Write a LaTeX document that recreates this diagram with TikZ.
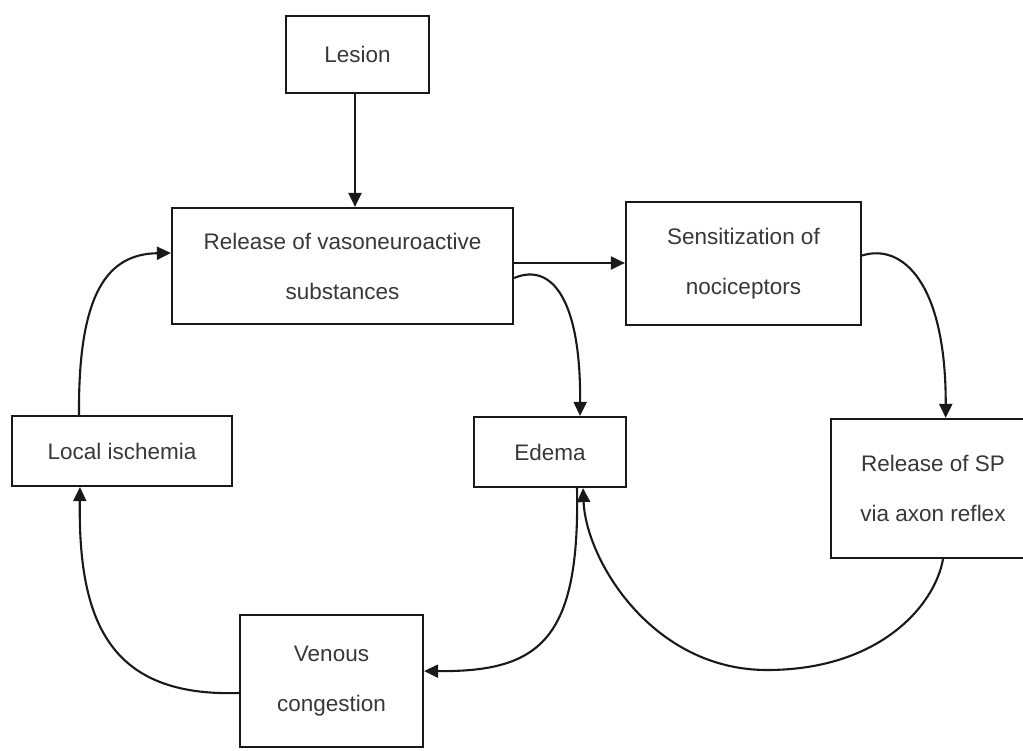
\documentclass[tikz,border=0pt]{standalone}
\usepackage{fontspec}
\setmainfont{Liberation Sans}
\usetikzlibrary{arrows.meta}
\begin{document}
\begin{tikzpicture}[x=1pt,y=-1pt,
  box/.style={draw=black!90, line width=2.2pt, inner sep=0pt, align=center,
    text=black!78, font=\fontsize{22.5}{50}\selectfont},
  arr/.style={draw=black!90, line width=2.1pt,
    -{Triangle[length=14pt,width=13pt]}}]
\useasboundingbox (0,0) rectangle (1023,750);
\fill[white] (0,0) rectangle (1023,750);
\begin{scope}
\clip (0,0) rectangle (1023,750);
% boxes
\node[box, minimum width=143pt, minimum height=77pt] (lesion) at (357.5,54.5) {Lesion};
\node[box, minimum width=341pt, minimum height=116pt] (release) at (342.5,266) {Release of vasoneuroactive\\substances};
\node[box, minimum width=235pt, minimum height=123pt] (sens) at (743.5,263.5) {Sensitization of\\nociceptors};
\node[box, minimum width=220pt, minimum height=70pt] (isch) at (122,451) {Local ischemia};
\node[box, minimum width=152pt, minimum height=70pt] (edema) at (550,452) {Edema};
\node[box, minimum width=204pt, minimum height=139pt] (sp) at (933,488.5) {Release of SP\\via axon reflex};
\node[box, minimum width=183pt, minimum height=132pt] (venous) at (331.5,681) {Venous\\congestion};

% connectors
\draw[arr] ([xshift=-2.5pt]lesion.south) -- ([xshift=-2.5pt]lesion.south |- release.north);
\draw[arr] ([yshift=3pt]release.east) -- ([yshift=3pt]release.east -| sens.west);
\draw[arr] ([yshift=-12pt]release.east) .. controls (552,262) and (581,300) .. ([xshift=30pt]edema.north);
\draw[arr] ([yshift=8pt]sens.east) .. controls (902,243) and (946,282) .. ([xshift=12.7pt]sp.north);
\draw[arr] ([xshift=-43pt]isch.north) .. controls (78,292) and (108,254) .. ([yshift=13pt]release.west);
\draw[arr] ([yshift=-12pt]venous.west) .. controls (112,697) and (78,625) .. ([xshift=-42pt]isch.south);
\draw[arr] ([xshift=27pt]edema.south) .. controls (580,640) and (540,672) .. ([yshift=10pt]venous.east);
\draw[arr] ([xshift=10pt]sp.south) .. controls (935,605) and (880,670) .. (767,670)
  .. controls (652,670) and (586,560) .. ([xshift=33pt]edema.south);
\end{scope}
\end{tikzpicture}
\end{document}
